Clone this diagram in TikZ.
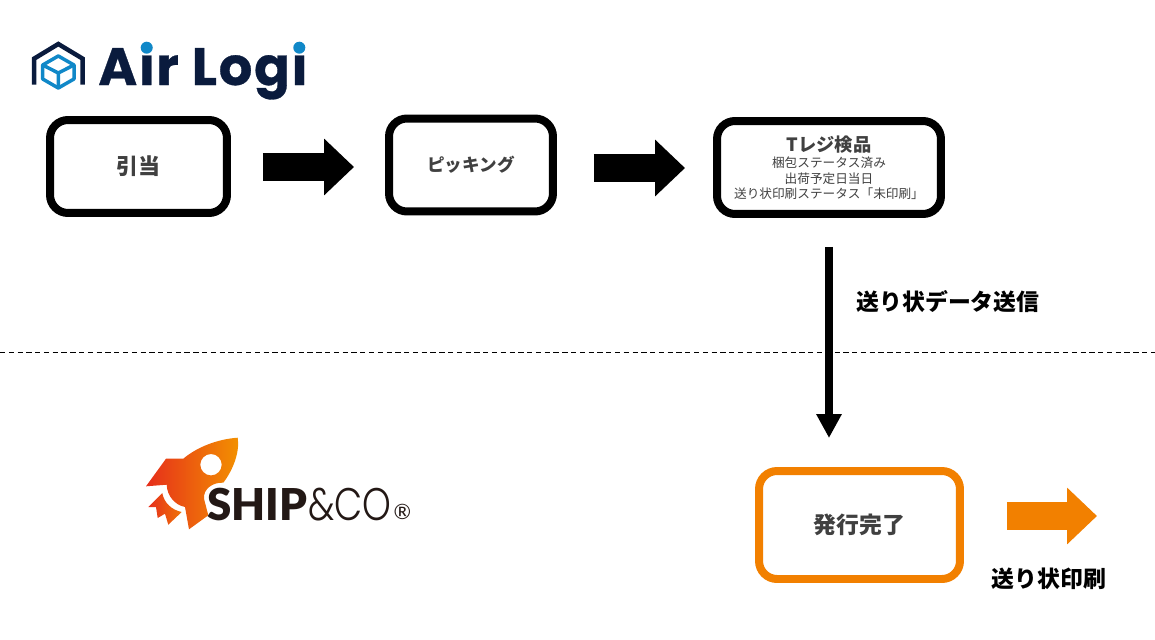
\documentclass[tikz,border=0pt]{standalone}
\usepackage{fontspec}
\setmainfont{Noto Sans CJK JP}
\newfontfamily\airfont{Poppins}[LetterSpace=3.4, FakeBold=0.6]
\newfontfamily\shipfont{Lato}[BoldFont=* Black]
\newfontfamily\regfont{Lato}
\newfontfamily\shiplight{Poppins}[UprightFont=* Light, FakeStretch=0.8]
\usetikzlibrary{arrows.meta}
\definecolor{boxtext}{HTML}{404040}
\definecolor{shiporange}{HTML}{F28000}
\definecolor{airnavy}{HTML}{0A1B3D}
\definecolor{airblue}{HTML}{1088C8}
\definecolor{shipred}{HTML}{E62E1B}
\definecolor{shipamber}{HTML}{F39200}
\definecolor{shipblack}{HTML}{231815}
\tikzset{
  flowbox/.style={draw=black, line width=0.16cm, rounded corners=0.36cm, fill=white, text=boxtext, align=center, inner sep=0pt},
  bigtext/.style={font=\fontsize{13}{15}\selectfont\bfseries},
  blockarrow/.style={line width=0.56cm, -{Triangle[length=0.6cm, width=1.1cm]}},
  caption/.style={font=\fontsize{13}{15}\selectfont\bfseries, text=black}
}

\begin{document}
\begin{tikzpicture}[x=0.02cm, y=-0.02cm]
\useasboundingbox (0, 0) rectangle (1155, 639);

\draw[airnavy, line width=0.09cm, miter limit=10] (34, 84.5) -- (34, 58.7) -- (58.3, 44) -- (82.7, 58.7) -- (82.7, 84.5);
\draw[airblue, line width=0.07cm, line join=round] (58.3, 56) -- (74, 65) -- (74, 79) -- (58.3, 88) -- (42.7, 79) -- (42.7, 65) -- cycle;
\draw[airblue, line width=0.07cm, line join=round] (42.7, 65) -- (58.3, 73) -- (74, 65) (58.3, 73) -- (58.3, 88);
\node[anchor=base west, inner sep=0pt, text=airnavy, font=\fontsize{30}{30}\selectfont\airfont\bfseries] (airlogo) at (98, 85) {Air Logi};
\fill[airblue] (146.7, 47.7) circle (6) (299.3, 47.7) circle (6);

\node[flowbox, bigtext, font=\fontsize{12.5}{15}\selectfont\bfseries, minimum width=3.54cm, minimum height=1.86cm] (allocate) at (138.5, 166.5) {引当};
\node[flowbox, minimum width=3.28cm, minimum height=1.86cm, font=\fontsize{10}{12}\selectfont\bfseries] (picking) at (471, 165) {ピッキング};
\node[flowbox, minimum width=4.48cm, minimum height=1.86cm, font=\fontsize{7}{8.6}\selectfont] (inspect) at (829, 167.5) {\fontsize{10.4}{11}\selectfont\bfseries Tレジ検品\\[0.8pt]
\fontsize{7.2}{8.6}\selectfont\mdseries 梱包ステータス済み\\ \fontsize{7.2}{8.6}\selectfont 出荷予定日当日\\ \fontsize{7.2}{8.6}\selectfont 送り状印刷ステータス「未印刷」};
\node[flowbox, bigtext, draw=shiporange, minimum width=4.02cm, minimum height=2.16cm] (done) at (859.5, 525) {発行完了};

\coordinate (rowa) at (300, 167);
\coordinate (rowb) at (640, 168);
\coordinate (printend) at (1097, 516);
\draw[blockarrow, shorten <=0.64cm, shorten >=0.62cm] (allocate.east |- rowa) -- (picking.west |- rowa);
\draw[blockarrow, shorten <=0.74cm, shorten >=0.56cm] (picking.east |- rowb) -- (inspect.west |- rowb);
\draw[line width=0.17cm, -{Triangle[length=0.48cm, width=0.48cm]}, shorten <=0.58cm, shorten >=0.58cm] (inspect.south) -- (inspect.south |- done.north);
\draw[blockarrow, shiporange, shorten <=0.86cm] (done.east |- printend) -- (printend);

\node[caption] (sendlabel) at (948, 302) {送り状データ送信};
\node[caption] (printlabel) at (1049, 579) {送り状印刷};

\draw[densely dashed, line width=0.4pt] (0, 352.5) -- (1155, 352.5);

\shade[left color=shipred, right color=shipamber, even odd rule] (237.7, 437.7) .. controls (218, 439) and (197, 447) .. (183.3, 458.7) -- (166, 458.7) -- (146, 486.3) -- (166.7, 484.7) .. controls (167, 496) and (175, 505) .. (185, 507) -- (189, 529.3) -- (208.3, 515.3) -- (204, 498.7) .. controls (203, 489) and (213, 482) .. (223.3, 482.7) .. controls (233, 470) and (240, 452) .. (237.7, 437.7) -- cycle (211, 464.7) circle (10.7);
\shade[left color=shipred, right color=shipred!30!shipamber] (162.3, 493) -- (148.3, 507) -- (156, 507) -- (157.7, 518) -- (165, 513.7) -- (168.3, 524.7) -- (181.7, 512) .. controls (172, 510) and (164, 503) .. (162.3, 493) -- cycle;
\node[anchor=base west, inner sep=0pt, text=shipblack, font=\fontsize{25}{25}\selectfont\shipfont\bfseries] (shiplogo) at (207, 520) {SHIP};
\node[anchor=base west, inner sep=0pt, text=shipblack, font=\fontsize{26}{26}\selectfont\shiplight] (coname) at (shiplogo.base east) {\&CO};
\node[inner sep=0pt, text=shipblack, font=\fontsize{12}{12}\selectfont\regfont] (regmark) at (402.5, 511.7) {®};
\end{tikzpicture}
\end{document}
